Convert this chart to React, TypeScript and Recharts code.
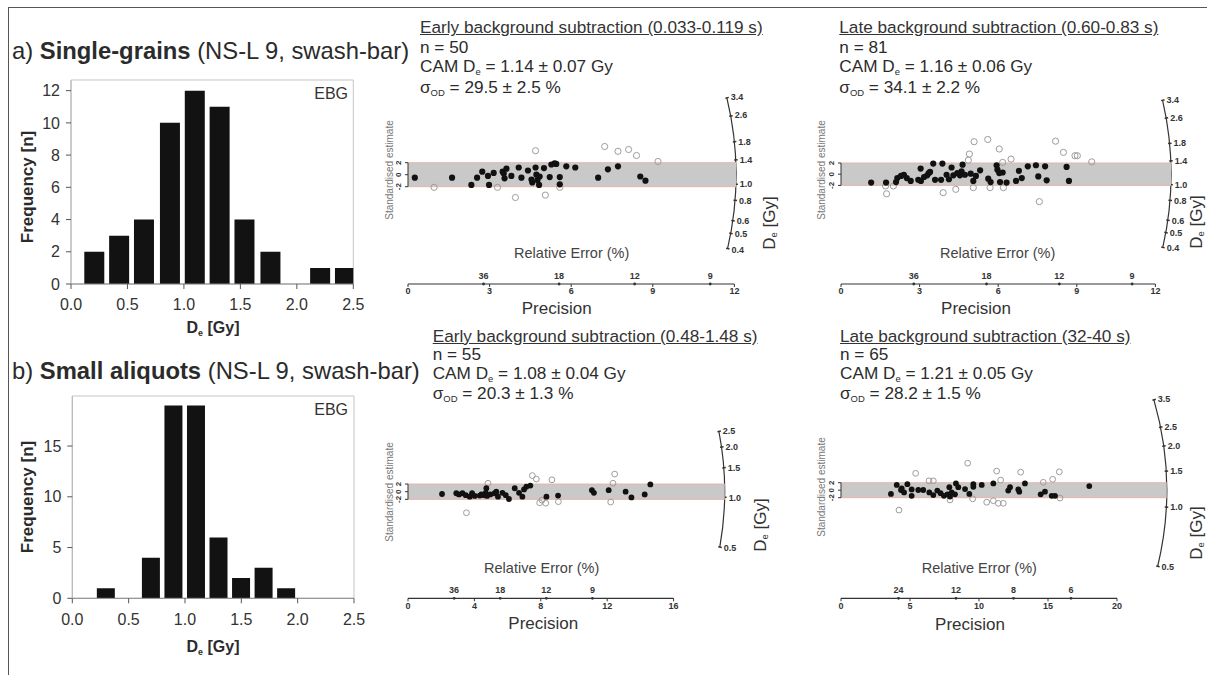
import React from "react";
import {
  BarChart,
  Bar,
  ScatterChart,
  Scatter,
  XAxis,
  YAxis,
  ReferenceArea,
  ReferenceLine,
  ReferenceDot,
  Customized,
} from "recharts";

const FONT = '"Liberation Sans", Arial, Helvetica, sans-serif';
const INK = "#2b2b2b";

// ---- De histograms (bin centre in Gy, count) ----
const deTicks = [0, 0.5, 1, 1.5, 2, 2.5];
const sgBins = [0.21, 0.43, 0.65, 0.88, 1.1, 1.32, 1.54, 1.77, 1.99, 2.21, 2.43];
const sgCounts = [2, 3, 4, 10, 12, 11, 4, 2, 0, 1, 1];
const sgFreqTicks = [0, 2, 4, 6, 8, 10, 12];
const saBins = [0.3, 0.5, 0.7, 0.9, 1.1, 1.3, 1.5, 1.7, 1.9];
const saCounts = [1, 0, 4, 19, 19, 6, 2, 3, 1];
const saFreqTicks = [0, 5, 10, 15];

// ---- radial plots: [precision, standardised estimate] ----
type Pt = [number, number];

const sgEarlyIn: Pt[] = [
  [0.25, -0.5], [1.62, -0.5], [2.33, -1.7], [2.54, -0.5], [2.73, 0.5], [2.94, -0.2],
  [2.98, -1.7], [3.15, 0.3], [3.48, 0.5], [3.52, 0.2], [3.55, -0.6], [3.62, 1.0],
  [3.8, -0.2], [4.07, 1.2], [4.17, -0.5], [4.41, 0.7], [4.54, -0.8], [4.57, -1.3],
  [4.69, 1.2], [4.72, 0.0], [4.76, -0.9], [4.82, -1.7], [4.84, -0.3], [5.0, 1.1],
  [5.21, -0.4], [5.27, 1.7], [5.39, 1.9], [5.45, 1.8], [5.58, -0.4], [5.58, -1.6],
  [5.82, 1.4], [6.15, 1.2], [6.99, -0.5], [7.35, 0.9], [7.72, 1.4], [8.54, -0.3],
  [8.73, -1.0],
];
const sgEarlyOut: Pt[] = [
  [0.96, -2.1], [3.29, -2.1], [3.95, -3.8], [4.69, 4.0], [5.05, -3.4], [5.58, -2.1],
  [7.23, 4.7], [7.72, 3.9], [8.11, 4.2], [8.4, 3.2], [9.19, 2.2],
];

const sgLateIn: Pt[] = [
  [1.15, -1.5], [1.72, -1.5], [2.1, -1.4], [2.15, -0.7], [2.29, -0.3], [2.4, -0.1],
  [2.51, -0.7], [2.66, -1.2], [2.95, -1.0], [3.04, 1.0], [3.05, -1.2], [3.17, -0.5],
  [3.29, -0.2], [3.35, 0.2], [3.4, 0.4], [3.52, 1.9], [3.59, -1.0], [3.82, -1.0],
  [3.87, 1.9], [4.03, -0.1], [4.12, -0.9], [4.22, 1.2], [4.29, -0.2], [4.44, 0.2],
  [4.54, -0.2], [4.6, 0.5], [4.64, 1.7], [4.73, -0.1], [4.95, 0.1], [5.05, -1.2],
  [5.15, -0.3], [5.31, 0.7], [5.62, -0.8], [5.71, -1.4], [5.94, 1.6], [5.97, 0.8],
  [6.04, 0.2], [6.07, -1.4], [6.17, 0.3], [6.32, -1.5], [6.68, -1.2], [6.79, 0.6],
  [6.9, -0.7], [7.13, 1.4], [7.44, 1.6], [7.53, -0.4], [7.79, 1.4], [7.85, -1.1],
  [8.61, 1.3], [8.7, -1.2],
];
const sgLateOut: Pt[] = [
  [1.74, -3.5], [1.7, -2.1], [2.0, -2.1], [3.9, -3.3], [4.38, -2.7], [4.9, 3.6],
  [4.86, 2.5], [5.08, 5.8], [5.6, 6.2], [5.05, -2.4], [5.69, -2.4], [6.04, 4.5],
  [6.17, 2.1], [6.2, -2.4], [6.49, 2.7], [7.57, -4.9], [8.19, 5.9], [8.49, 3.9],
  [8.93, 3.3], [9.02, 3.3], [9.57, 2.2],
];

const saEarlyIn: Pt[] = [
  [2.05, -0.6], [2.91, -0.4], [3.07, -0.7], [3.28, -0.4], [3.48, -0.9], [3.72, -1.3],
  [3.86, -0.4], [4.02, -1.1], [4.32, -1.0], [4.42, -0.7], [4.58, -0.9], [4.68, -0.3],
  [4.72, 0.9], [4.76, -1.1], [4.96, -0.7], [5.22, -0.4], [5.32, 0.0], [5.42, -1.3],
  [5.69, -0.3], [5.89, -0.9], [6.08, -1.9], [6.43, 0.9], [6.69, -0.3], [6.89, -1.3],
  [6.99, 0.6], [7.13, 1.3], [7.37, 1.6], [8.34, -1.3], [9.04, -1.0], [11.08, 0.4],
  [11.2, -0.3], [12.09, 0.4], [13.11, 0.0], [13.46, -1.5], [14.26, -0.7], [14.6, 1.9],
];
const saEarlyOut: Pt[] = [
  [3.52, -5.5], [4.82, 2.2], [7.49, 4.2], [7.73, 3.3], [8.67, 3.1], [7.93, -2.9],
  [8.3, -3.0], [8.07, -2.2], [9.06, -2.6], [12.45, 4.6], [12.35, 2.2], [12.21, -2.7],
];

const saLateIn: Pt[] = [
  [3.62, -1.0], [4.04, 1.4], [4.35, 0.05], [4.4, 0.5], [4.57, -0.6], [4.81, 1.6],
  [5.12, 0.2], [5.12, -1.5], [5.6, 0.05], [5.96, 0.05], [6.4, -0.6], [6.69, -1.3],
  [6.98, -0.1], [7.22, -0.8], [7.46, -1.5], [7.71, -1.1], [7.85, 0.8], [7.9, -1.7],
  [8.02, -0.6], [8.26, -1.1], [8.33, 1.8], [8.5, 0.8], [8.99, 0.3], [9.3, -1.0],
  [9.59, 1.6], [9.59, 0.9], [10.2, 1.4], [11.04, 1.8], [12.12, -0.1], [12.25, 0.8],
  [12.85, 0.2], [12.92, -0.4], [13.33, 1.8], [14.47, -1.1], [14.78, -0.4], [15.27, -1.5],
  [15.51, -1.5], [17.99, 1.1],
];
const saLateOut: Pt[] = [
  [4.2, -5.3], [5.41, 4.5], [6.38, 2.5], [6.69, 2.5], [7.9, -2.6], [9.18, 7.2],
  [9.54, -2.3], [11.28, 5.1], [11.57, 2.7], [10.56, -3.2], [11.04, -2.8], [11.4, -3.5],
  [11.76, -3.5], [13.02, 4.8], [14.66, 2.1], [15.34, 2.9], [15.82, 4.9], [15.87, -2.1],
];

// axis ticks for the radial plots
const precTicks12 = [0, 3, 6, 9, 12];
const precTicks16 = [0, 4, 8, 12, 16];
const precTicks20 = [0, 5, 10, 15, 20];
const relErr36 = [36, 18, 12, 9];
const relErr24 = [24, 12, 8, 6];
const sgArcTicks = [3.4, 2.6, 1.8, 1.4, 1.0, 0.8, 0.6, 0.5, 0.4];
const saEarlyArcTicks = [2.5, 2.0, 1.5, 1.0, 0.5];
const saLateArcTicks = [3.5, 2.5, 2.0, 1.5, 1.0, 0.5];

// ---------- small text helpers ----------
function Txt({ x, y, size, children, style }: any) {
  return (
    <div
      style={{
        position: "absolute",
        left: x,
        top: y - size * 0.5,
        fontSize: size,
        lineHeight: `${size}px`,
        whiteSpace: "nowrap",
        color: INK,
        ...style,
      }}
    >
      {children}
    </div>
  );
}

function CTxt({ x, y, size, rotate = 0, children, style }: any) {
  return (
    <div
      style={{
        position: "absolute",
        left: x,
        top: y,
        fontSize: size,
        lineHeight: `${size}px`,
        whiteSpace: "nowrap",
        color: INK,
        transform: `translate(-50%, -50%) rotate(${rotate}deg)`,
        ...style,
      }}
    >
      {children}
    </div>
  );
}

const Sub = ({ children }: any) => (
  <span style={{ fontSize: "0.55em", verticalAlign: "-0.3em", lineHeight: 0 }}>{children}</span>
);

const De = () => (
  <>
    D<Sub>e</Sub>
  </>
);

// ---------- histogram ----------
function Histogram({ bins, counts, yMax, yTicks, barSize, plotLeft, plotRight, plotTop, plotBottom }: any) {
  const data = bins.map((x: number, i: number) => ({ x, n: counts[i] }));
  const wy = 50;
  const hx = 30;
  const top = plotTop - 10;
  const width = plotRight + 15;
  const height = plotBottom - top + hx + 2;
  return (
    <div style={{ position: "absolute", left: 0, top }}>
      <BarChart
        width={width}
        height={height}
        data={data}
        margin={{ top: 10, right: 15, bottom: 2, left: plotLeft - wy }}
      >
        <ReferenceArea x1={0} x2={2.5} y1={0} y2={yMax} fill="none" stroke="#c4c4c4" ifOverflow="visible" />
        <XAxis
          type="number"
          dataKey="x"
          domain={[0, 2.5]}
          ticks={deTicks}
          interval={0}
          height={hx}
          tickSize={5}
          tickMargin={10}
          tickFormatter={(v: number) => v.toFixed(1)}
          axisLine={{ stroke: "#8a8a8a" }}
          tickLine={{ stroke: "#555" }}
          tick={{ fontSize: 16, fill: "#333" }}
          allowDataOverflow
        />
        <YAxis
          type="number"
          domain={[0, yMax]}
          ticks={yTicks}
          interval={0}
          width={wy}
          tickSize={5}
          tickMargin={6}
          axisLine={{ stroke: "#b5b5b5" }}
          tickLine={{ stroke: "#555" }}
          tick={{ fontSize: 16, fill: "#333" }}
          allowDataOverflow
        />
        <Bar dataKey="n" fill="#121212" barSize={barSize} isAnimationActive={false} />
      </BarChart>
    </div>
  );
}

// ---------- radial plot ----------
function DoseArc({ cx, cy, r, k, cam, ticks }: any) {
  const ang = (d: number) => Math.atan(Math.log(d / cam) * k);
  const pt = (a: number, rr: number) => [cx + rr * Math.cos(a), cy - rr * Math.sin(a)];
  const [x0, y0] = pt(ang(Math.max(...ticks)), r);
  const [x1, y1] = pt(ang(Math.min(...ticks)), r);
  return (
    <g>
      <path d={`M${x0},${y0} A${r},${r} 0 0 1 ${x1},${y1}`} fill="none" stroke="#333" strokeWidth={1.2} />
      {ticks.map((d: number) => {
        const a = ang(d);
        const [ax, ay] = pt(a, r - 1.5);
        const [bx, by] = pt(a, r + 2);
        const [lx, ly] = pt(a, r + 4);
        return (
          <g key={d}>
            <line x1={ax} y1={ay} x2={bx} y2={by} stroke="#333" strokeWidth={1.5} />
            <text x={lx} y={ly} dy="0.35em" fontSize={9} fontWeight={700} fill="#333">
              {d.toFixed(1)}
            </text>
          </g>
        );
      })}
    </g>
  );
}

type RadialProps = {
  ox: number;
  oy: number;
  sx: number;
  sy: number;
  r: number;
  top: number;
  bottom: number;
  precTicks: number[];
  reTicks: number[];
  arcTicks: number[];
  cam: number;
  inside: Pt[];
  outside: Pt[];
  dot: number;
};

function RadialPlot(p: RadialProps) {
  const wy = 24;
  const mLeft = 6;
  const mTop = 6;
  const mRight = 46;
  const hx = 22;
  const mBottom = 2;
  const xMax = p.r / p.sx;
  const yMax = (p.oy - p.top) / p.sy;
  const yMin = (p.oy - p.bottom) / p.sy;
  const width = mLeft + wy + p.r + mRight;
  const height = mTop + (p.bottom - p.top) + hx + mBottom;
  const tickMax = p.precTicks[p.precTicks.length - 1];
  const toPts = (a: Pt[]) => a.map(([x, z]) => ({ p: x, z }));
  return (
    <div style={{ position: "absolute", left: p.ox - wy - mLeft, top: p.top - mTop }}>
      <ScatterChart
        width={width}
        height={height}
        margin={{ top: mTop, right: mRight, bottom: mBottom, left: mLeft }}
      >
        <XAxis
          type="number"
          dataKey="p"
          domain={[0, xMax]}
          ticks={p.precTicks}
          interval={0}
          height={hx}
          axisLine={false}
          tickSize={3}
          tickMargin={1}
          tickLine={{ stroke: "#333" }}
          tick={{ fontSize: 9, fontWeight: 700, fill: "#333" }}
          allowDataOverflow
        />
        <YAxis
          type="number"
          dataKey="z"
          domain={[yMin, yMax]}
          ticks={[-2, 0, 2]}
          interval={0}
          width={wy}
          axisLine={false}
          tickSize={3}
          tickLine={{ stroke: "#333" }}
          tick={(t: any) => (
            <text
              x={t.x - 2}
              y={t.y}
              transform={`rotate(-90 ${t.x - 2} ${t.y})`}
              textAnchor="middle"
              fontSize={8}
              fontWeight={700}
              fill="#333"
            >
              {t.payload.value}
            </text>
          )}
          allowDataOverflow
        />
        <ReferenceArea x1={0} x2={xMax} y1={-2} y2={2} fill="#c9c9c9" fillOpacity={1} stroke="none" />
        <ReferenceLine segment={[{ x: 0, y: 2 }, { x: xMax, y: 2 }]} stroke="#e8b4ac" strokeWidth={1} />
        <ReferenceLine segment={[{ x: 0, y: -2 }, { x: xMax, y: -2 }]} stroke="#e8b4ac" strokeWidth={1} />
        <ReferenceLine segment={[{ x: 0, y: -2 }, { x: 0, y: 2 }]} stroke="#333" strokeWidth={1} ifOverflow="visible" />
        <ReferenceLine
          segment={[{ x: 0, y: yMin }, { x: tickMax, y: yMin }]}
          stroke="#333"
          strokeWidth={1.2}
          ifOverflow="visible"
        />
        {p.reTicks.map((re) => (
          <ReferenceDot
            key={re}
            x={100 / re}
            y={yMin}
            r={1.4}
            fill="#333"
            stroke="none"
            ifOverflow="visible"
            label={{ value: String(re), position: "top", offset: 4, fontSize: 9, fontWeight: 700, fill: "#333" }}
          />
        ))}
        <Customized
          component={
            <DoseArc
              cx={mLeft + wy}
              cy={mTop + (p.oy - p.top)}
              r={p.r}
              k={p.sy / p.sx}
              cam={p.cam}
              ticks={p.arcTicks}
            />
          }
        />
        <Scatter
          data={toPts(p.outside)}
          isAnimationActive={false}
          shape={(s: any) => <circle cx={s.cx} cy={s.cy} r={p.dot} fill="none" stroke="#9d9d9d" strokeWidth={1} />}
        />
        <Scatter
          data={toPts(p.inside)}
          isAnimationActive={false}
          shape={(s: any) => <circle cx={s.cx} cy={s.cy} r={p.dot} fill="#111" />}
        />
      </ScatterChart>
    </div>
  );
}

// stats block above each radial plot
function Stats({ x, ys, title, n, cam, camErr, od, odErr }: any) {
  const fs = 17.2;
  return (
    <>
      <Txt x={x} y={ys[0]} size={fs} style={{ textDecoration: "underline", color: "#333" }}>
        {title}
      </Txt>
      <Txt x={x} y={ys[1]} size={fs}>
        n = {n}
      </Txt>
      <Txt x={x} y={ys[2]} size={fs}>
        CAM <De /> = {cam.toFixed(2)} ± {camErr.toFixed(2)} Gy
      </Txt>
      <Txt x={x} y={ys[3]} size={fs}>
        σ<Sub>OD</Sub> = {od.toFixed(1)} ± {odErr.toFixed(1)} %
      </Txt>
    </>
  );
}

function AxisTitles({ stdX, stdY, reX, reY, precX, precY, deX, deY }: any) {
  return (
    <>
      <CTxt x={stdX} y={stdY} size={10} rotate={-90} style={{ color: "#777" }}>
        Standardised estimate
      </CTxt>
      <CTxt x={reX} y={reY} size={14.5} style={{ color: "#444" }}>
        Relative Error (%)
      </CTxt>
      <CTxt x={precX} y={precY} size={17} style={{ color: "#333" }}>
        Precision
      </CTxt>
      <CTxt x={deX} y={deY} size={17} rotate={-90} style={{ color: "#333" }}>
        <De /> [Gy]
      </CTxt>
    </>
  );
}

export default function App() {
  return (
    <div
      style={{
        position: "absolute",
        left: 0,
        top: 0,
        width: 1207,
        height: 675,
        background: "#fff",
        overflow: "hidden",
        fontFamily: FONT,
      }}
    >
      <div style={{ position: "absolute", left: 8, top: 6.5, width: 1199, height: 1.4, background: "#555" }} />
      <div style={{ position: "absolute", left: 7.5, top: 6.5, width: 1.4, height: 669, background: "#555" }} />

      {/* row a: single grains */}
      <Txt x={12} y={51} size={23.8}>
        a) <b>Single-grains</b> (NS-L 9, swash-bar)
      </Txt>
      <Histogram
        bins={sgBins}
        counts={sgCounts}
        yMax={12.66}
        yTicks={sgFreqTicks}
        barSize={20}
        plotLeft={71}
        plotRight={353.3}
        plotTop={80}
        plotBottom={284}
      />
      <CTxt x={27} y={187} size={17} rotate={-90} style={{ fontWeight: 700 }}>
        Frequency [n]
      </CTxt>
      <CTxt x={213} y={328} size={16} style={{ fontWeight: 700 }}>
        <De /> [Gy]
      </CTxt>
      <Txt x={348} y={94} size={16} style={{ transform: "translateX(-100%)", color: "#333" }}>
        EBG
      </Txt>

      <Stats x={420} ys={[28, 48, 66.7, 88]} title="Early background subtraction (0.033-0.119 s)" n={50} cam={1.14} camErr={0.07} od={29.5} odErr={2.5} />
      <RadialPlot
        ox={408.3}
        oy={174.7}
        sx={27.2}
        sy={6.0}
        r={328}
        top={92}
        bottom={284}
        precTicks={precTicks12}
        reTicks={relErr36}
        arcTicks={sgArcTicks}
        cam={1.14}
        inside={sgEarlyIn}
        outside={sgEarlyOut}
        dot={3.1}
      />
      <AxisTitles stdX={390} stdY={170} reX={571.7} reY={253} precX={556.7} precY={308} deX={769} deY={223} />

      <Stats x={839.3} ys={[28, 48, 66.7, 88]} title="Late background subtraction (0.60-0.83 s)" n={81} cam={1.16} camErr={0.06} od={34.1} odErr={2.2} />
      <RadialPlot
        ox={841}
        oy={174.2}
        sx={26.2}
        sy={5.6}
        r={330}
        top={92}
        bottom={284}
        precTicks={precTicks12}
        reTicks={relErr36}
        arcTicks={sgArcTicks}
        cam={1.16}
        inside={sgLateIn}
        outside={sgLateOut}
        dot={3.1}
      />
      <AxisTitles stdX={821.7} stdY={170} reX={997.7} reY={253} precX={976} precY={308} deX={1196} deY={222} />

      {/* row b: small aliquots */}
      <Txt x={12} y={370.5} size={23.8}>
        b) <b>Small aliquots</b> (NS-L 9, swash-bar)
      </Txt>
      <Histogram
        bins={saBins}
        counts={saCounts}
        yMax={19.93}
        yTicks={saFreqTicks}
        barSize={18}
        plotLeft={72.3}
        plotRight={354}
        plotTop={396}
        plotBottom={598.3}
      />
      <CTxt x={27} y={497} size={17} rotate={-90} style={{ fontWeight: 700 }}>
        Frequency [n]
      </CTxt>
      <CTxt x={213} y={647} size={16} style={{ fontWeight: 700 }}>
        <De /> [Gy]
      </CTxt>
      <Txt x={348} y={410} size={16} style={{ transform: "translateX(-100%)", color: "#333" }}>
        EBG
      </Txt>

      <Stats x={432.7} ys={[336.5, 355, 373.3, 394]} title="Early background subtraction (0.48-1.48 s)" n={55} cam={1.08} camErr={0.04} od={20.3} odErr={1.3} />
      <RadialPlot
        ox={408.3}
        oy={491.7}
        sx={16.6}
        sy={3.83}
        r={316.7}
        top={420}
        bottom={598.3}
        precTicks={precTicks16}
        reTicks={relErr36}
        arcTicks={saEarlyArcTicks}
        cam={1.08}
        inside={saEarlyIn}
        outside={saEarlyOut}
        dot={2.9}
      />
      <AxisTitles stdX={390} stdY={491.7} reX={541.7} reY={568.3} precX={543.3} precY={623.3} deX={760} deY={525} />

      <Stats x={840} ys={[336.5, 355, 373.3, 394]} title="Late background subtraction (32-40 s)" n={65} cam={1.21} camErr={0.05} od={28.2} odErr={1.5} />
      <RadialPlot
        ox={841}
        oy={490.2}
        sx={13.8}
        sy={3.75}
        r={325.7}
        top={395}
        bottom={598.3}
        precTicks={precTicks20}
        reTicks={relErr24}
        arcTicks={saLateArcTicks}
        cam={1.21}
        inside={saLateIn}
        outside={saLateOut}
        dot={2.9}
      />
      <AxisTitles stdX={821.7} stdY={486.7} reX={979.3} reY={568.3} precX={970} precY={624} deX={1196} deY={533} />
    </div>
  );
}
